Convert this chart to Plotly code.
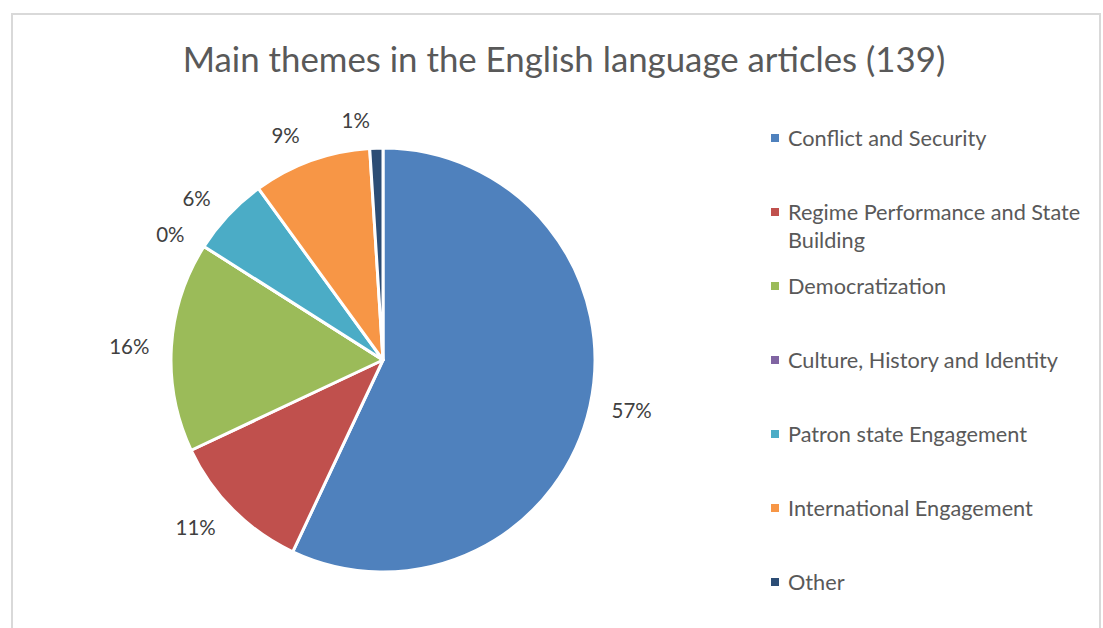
import plotly.graph_objects as go

# Share of articles by main theme (percent)
themes = [
    "Conflict and Security",
    "Regime Performance and State Building",
    "Democratization",
    "Culture, History and Identity",
    "Patron state Engagement",
    "International Engagement",
    "Other",
]
legend_labels = [
    "Conflict and Security",
    "Regime Performance and State<br>Building",
    "Democratization",
    "Culture, History and Identity",
    "Patron state Engagement",
    "International Engagement",
    "Other",
]
shares = [57, 11, 16, 0, 6, 9, 1]
colors = ["#4F81BD", "#C0504D", "#9BBB59", "#8064A2", "#4BACC6", "#F79646", "#2C4D75"]

W, H = 1103, 628
FONT = "Lato, 'Open Sans', sans-serif"
CX, CY, R = 383, 360, 212     # pie centre and radius (px)
R_LABEL = 228                 # radius the outside labels are placed from


def pie_domain(r):
    return dict(x=[(CX - r) / W, (CX + r) / W],
                y=[(H - CY - r) / H, (H - CY + r) / H])


pie_common = dict(labels=themes, values=shares, sort=False,
                  direction="clockwise", rotation=0, showlegend=False)

fig = go.Figure()
# Visible slices
fig.add_trace(go.Pie(
    **pie_common,
    textinfo="none",
    marker=dict(colors=colors, line=dict(color="white", width=3)),
    domain=pie_domain(R),
))

# Transparent copies, slightly larger, carrying the percentage labels.
# The last ("Other") label sits in its own layer so it stays right above its slice.
pct = [f"{v}%" for v in shares]
label_layers = [
    [t if i < len(pct) - 1 else "" for i, t in enumerate(pct)],
    [t if i == len(pct) - 1 else "" for i, t in enumerate(pct)],
]
for layer in label_layers:
    fig.add_trace(go.Pie(
        **pie_common,
        text=layer,
        textinfo="text",
        textposition="outside",
        hoverinfo="skip",
        marker=dict(colors=["rgba(0,0,0,0)"] * len(shares), line=dict(width=0)),
        outsidetextfont=dict(family=FONT, size=20.5, color="#404040"),
        domain=pie_domain(R_LABEL),
    ))

# Legend drawn as squares + text in fixed slots on the right
annotations = []
shapes = []
slot_top, slot_step = 138, 74
for i, (lab, col) in enumerate(zip(legend_labels, colors)):
    ypx = slot_top + i * slot_step
    annotations.append(dict(
        x=786 / W, y=1 - (ypx - 15) / H, xref="paper", yref="paper",
        xanchor="left", yanchor="top", align="left", showarrow=False,
        text=lab, font=dict(family=FONT, size=21.7, color="#595959"),
    ))
    shapes.append(dict(
        type="rect", xref="paper", yref="paper",
        x0=771 / W, x1=779 / W, y0=1 - (ypx + 4) / H, y1=1 - (ypx - 4) / H,
        fillcolor=col, line=dict(width=0),
    ))

# Chart frame
shapes.append(dict(
    type="rect", xref="paper", yref="paper",
    x0=12 / W, x1=1100 / W, y0=-0.05, y1=1 - 14 / H,
    line=dict(color="#D9D9D9", width=2), fillcolor="rgba(0,0,0,0)",
))

fig.update_layout(
    width=W, height=H,
    margin=dict(l=0, r=0, t=0, b=0),
    paper_bgcolor="white",
    title=dict(
        text="Main themes in the English language articles (139)",
        x=564 / W, xanchor="center", y=1 - 60 / H, yanchor="middle",
        font=dict(family=FONT, size=34.8, color="#595959"),
    ),
    annotations=annotations,
    shapes=shapes,
)

fig.write_html("out.html")
